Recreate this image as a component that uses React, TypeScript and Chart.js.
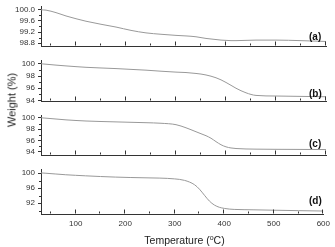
import React, { useEffect, useRef } from 'react';
import { Chart, registerables } from 'chart.js';
Chart.register(...registerables);

// ---- data ----
const temperatures = [30, 40, 60, 80, 100, 120, 150, 180, 210, 240, 270, 300, 320, 340, 350, 360, 370, 380, 390, 400, 410, 420, 440, 460, 500, 550, 600];
const weightA = [100.0, 99.99, 99.9, 99.78, 99.68, 99.59, 99.48, 99.38, 99.26, 99.17, 99.12, 99.08, 99.06, 99.03, 99.0, 98.97, 98.95, 98.93, 98.91, 98.9, 98.89, 98.89, 98.9, 98.91, 98.91, 98.89, 98.86];
const weightB = [100.02, 99.95, 99.8, 99.67, 99.55, 99.44, 99.33, 99.23, 99.1, 98.97, 98.8, 98.65, 98.58, 98.43, 98.33, 98.18, 97.98, 97.72, 97.38, 96.95, 96.48, 96.0, 95.25, 94.82, 94.72, 94.66, 94.6];
const weightC = [100.02, 99.95, 99.8, 99.65, 99.54, 99.45, 99.36, 99.29, 99.22, 99.15, 99.05, 98.8, 98.25, 97.55, 97.2, 96.85, 96.4, 95.8, 95.25, 94.88, 94.68, 94.58, 94.5, 94.47, 94.44, 94.42, 94.4];
const weightD = [100.05, 99.95, 99.75, 99.55, 99.4, 99.27, 99.08, 98.93, 98.82, 98.74, 98.66, 98.45, 98.05, 96.9, 95.7, 94.1, 92.55, 91.5, 90.9, 90.6, 90.42, 90.33, 90.26, 90.22, 90.12, 90.0, 89.9];

const xRange = [30, 600];
const xMajorTicks = [100, 200, 300, 400, 500, 600];
const xMinorTicks = [50, 150, 250, 350, 450, 550];

const panelLabels = ['(a)', '(b)', '(c)', '(d)'];

const yRangeA = [98.69, 100.11];
const yTicksA = [98.8, 99.2, 99.6, 100.0];
const yMinorA = [99.0, 99.4, 99.8];

const yRangeB = [93.87, 100.51];
const yTicksB = [94, 96, 98, 100];
const yMinorB = [95, 97, 99];

const yRangeC = [93.4, 100.37];
const yTicksC = [94, 96, 98, 100];
const yMinorC = [95, 97, 99];

const yRangeD = [89.11, 100.87];
const yTicksD = [92, 96, 100];
const yMinorD = [90, 94, 98];

const xTitle = 'Temperature (';
const yTitle = 'Weight (%)';

const FONT = 'Liberation Sans, Arial, sans-serif';
const AXIS_COLOR = '#333333';
const LINE_COLOR = '#999999';

const tickPlugin = {
  id: 'customTicks',
  afterDraw(chart: any, _args: any, opts: any) {
    const ctx = chart.ctx;
    const xs = chart.scales.x;
    const ys = chart.scales.y;
    const area = chart.chartArea;
    ctx.save();
    ctx.strokeStyle = AXIS_COLOR;
    ctx.lineWidth = 1;
    ctx.beginPath();
    const b = Math.round(area.bottom) - 0.5;
    xMajorTicks.forEach((v) => {
      const px = Math.round(xs.getPixelForValue(v)) - 0.5;
      ctx.moveTo(px, b);
      ctx.lineTo(px, b - 4);
    });
    xMinorTicks.forEach((v) => {
      const px = Math.round(xs.getPixelForValue(v)) - 0.5;
      ctx.moveTo(px, b);
      ctx.lineTo(px, b - 2);
    });
    const l = Math.round(area.left);
    (opts.minor || []).forEach((v: number) => {
      const py = Math.round(ys.getPixelForValue(v)) + 0.5;
      ctx.moveTo(l - 2, py);
      ctx.lineTo(l, py);
    });
    ctx.stroke();
    ctx.restore();
  },
};

type PanelProps = {
  values: number[];
  yRange: number[];
  yTicks: number[];
  yMinor: number[];
  decimals: number;
  showX: boolean;
  top: number;
  bottom: number;
};

function Panel({ values, yRange, yTicks, yMinor, decimals, showX, top, bottom }: PanelProps) {
  const ref = useRef<HTMLCanvasElement | null>(null);
  const xHeight = showX ? 20 : 0;
  const padBottom = showX ? 0 : 2;
  const height = bottom - top + 2 + xHeight + padBottom;

  useEffect(() => {
    if (!ref.current) return;
    const chart = new Chart(ref.current, {
      type: 'line',
      data: {
        datasets: [
          {
            data: temperatures.map((t, i) => ({ x: t, y: values[i] })),
            borderColor: LINE_COLOR,
            borderWidth: 1,
            pointRadius: 0,
            cubicInterpolationMode: 'monotone',
            fill: false,
          } as any,
        ],
      },
      options: {
        animation: false,
        responsive: false,
        maintainAspectRatio: false,
        devicePixelRatio: 1,
        layout: { padding: { top: 2, bottom: padBottom, left: 0, right: 9 } },
        plugins: {
          legend: { display: false },
          tooltip: { enabled: false },
          customTicks: { minor: yMinor },
        } as any,
        scales: {
          x: {
            type: 'linear',
            min: xRange[0],
            max: xRange[1],
            afterBuildTicks: (s: any) => {
              s.ticks = xMajorTicks.map((v) => ({ value: v }));
            },
            afterFit: (s: any) => {
              s.height = xHeight;
            },
            grid: { display: false, drawTicks: false },
            border: { display: true, color: AXIS_COLOR, width: 1 },
            ticks: {
              display: showX,
              padding: 5,
              color: '#333',
              autoSkip: false,
              maxRotation: 0,
              font: { family: FONT, size: 8 },
              callback: (v: any) => String(v),
            },
          },
          y: {
            type: 'linear',
            min: yRange[0],
            max: yRange[1],
            afterBuildTicks: (s: any) => {
              s.ticks = yTicks.map((v) => ({ value: v }));
            },
            afterFit: (s: any) => {
              s.width = 41;
            },
            grid: { display: true, drawOnChartArea: false, drawTicks: true, tickLength: 3, color: AXIS_COLOR },
            border: { display: true, color: AXIS_COLOR, width: 1 },
            ticks: {
              padding: 3,
              color: '#333',
              font: { family: FONT, size: 8 },
              callback: (v: any) => Number(v).toFixed(decimals),
            },
          },
        },
      } as any,
      plugins: [tickPlugin],
    });
    return () => chart.destroy();
  }, []);

  return (
    <canvas
      ref={ref}
      width={335}
      height={height}
      style={{ position: 'absolute', left: 0, top: top - 2, width: 335, height }}
    />
  );
}

const panels = [
  { values: weightA, yRange: yRangeA, yTicks: yTicksA, yMinor: yMinorA, decimals: 1, showX: false, top: 1, bottom: 52, labelY: 37 },
  { values: weightB, yRange: yRangeB, yTicks: yTicksB, yMinor: yMinorB, decimals: 0, showX: false, top: 55, bottom: 107, labelY: 93.5 },
  { values: weightC, yRange: yRangeC, yTicks: yTicksC, yMinor: yMinorC, decimals: 0, showX: false, top: 110, bottom: 161, labelY: 144 },
  { values: weightD, yRange: yRangeD, yTicks: yTicksD, yMinor: yMinorD, decimals: 0, showX: true, top: 164, bottom: 214, labelY: 201 },
];

export default function App() {
  useEffect(() => {
    document.body.style.margin = '0';
  }, []);
  return (
    <div
      style={{
        position: 'fixed',
        left: 0,
        top: 0,
        width: 335,
        height: 247,
        background: '#fff',
        overflow: 'hidden',
        fontFamily: FONT,
      }}
    >
      {panels.map((p, i) => (
        <React.Fragment key={i}>
          <Panel
            values={p.values}
            yRange={p.yRange}
            yTicks={p.yTicks}
            yMinor={p.yMinor}
            decimals={p.decimals}
            showX={p.showX}
            top={p.top}
            bottom={p.bottom}
          />
          <div
            style={{
              position: 'absolute',
              left: 309,
              top: p.labelY,
              transform: 'translateY(-50%)',
              fontSize: 10,
              lineHeight: 1,
              fontWeight: 'bold',
              color: '#111',
              whiteSpace: 'nowrap',
            }}
          >
            {panelLabels[i]}
          </div>
        </React.Fragment>
      ))}
      <div
        style={{
          position: 'absolute',
          left: 12,
          top: 100,
          transform: 'translate(-50%, -50%) rotate(-90deg)',
          fontSize: 11,
          lineHeight: 1,
          color: '#222',
          whiteSpace: 'nowrap',
        }}
      >
        {yTitle}
      </div>
      <div
        style={{
          position: 'absolute',
          left: 184.5,
          top: 240,
          transform: 'translate(-50%, -50%)',
          fontSize: 10.5,
          lineHeight: 1,
          color: '#222',
          whiteSpace: 'nowrap',
        }}
      >
        {xTitle}
        <span style={{ fontSize: 7, position: 'relative', top: -4 }}>o</span>
        C)
      </div>
    </div>
  );
}
